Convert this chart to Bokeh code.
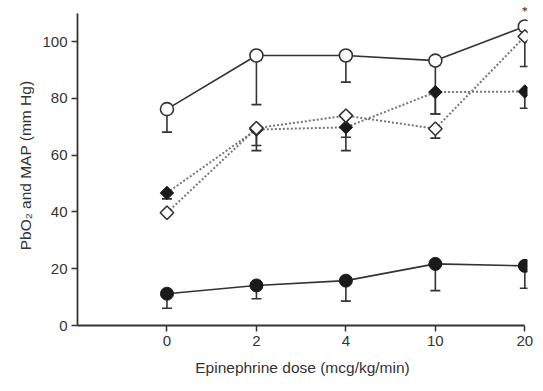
import math
from bokeh.plotting import figure
from bokeh.models import (ColumnDataSource, Range1d, FixedTicker, Whisker, TeeHead, LabelSet)
from bokeh.embed import file_html
from bokeh.resources import INLINE

# ---- data ----
doses = ["0", "2", "4", "10", "20"]
y_ticks = [0, 20, 40, 60, 80, 100]

open_circle = [76.2, 95.1, 95.1, 93.3, 105.3]
open_circle_low = [68.1, 77.8, 85.7, 74.5, None]

filled_circle = [11.2, 14.1, 15.8, 21.7, 21.0]
filled_circle_low = [6.1, 9.4, 8.6, 12.3, 13.1]

filled_diamond = [46.7, 69.0, 69.8, 82.2, 82.4]
filled_diamond_low = [44.6, 61.6, 61.6, 74.5, 76.5]

open_diamond = [39.7, 69.5, 73.9, 69.3, 101.8]
open_diamond_low = [None, 63.4, 66.3, 66.0, 91.2]

significant = ["20"]
star_text = ["*"]

FONT = "Liberation Sans"
INK = "#333333"

xpos = list(range(len(doses)))

p = figure(width=535, height=383, output_backend="svg", toolbar_location=None,
           x_range=Range1d(-1, 4.03), y_range=Range1d(0, 112.7),
           min_border_left=77, min_border_right=8, min_border_top=5, min_border_bottom=58)
p.outline_line_color = None
p.xgrid.visible = False
p.ygrid.visible = False
p.background_fill_color = "white"

def err_source(vals, lows):
    xs, up, lo = [], [], []
    for x, v, l in zip(xpos, vals, lows):
        if l is not None:
            xs.append(x); up.append(v); lo.append(l)
    return ColumnDataSource(dict(x=xs, upper=up, lower=lo))

# lines
p.line(xpos, open_circle, line_color=INK, line_width=1.6)
p.line(xpos, filled_circle, line_color=INK, line_width=1.6)
p.line(xpos, filled_diamond, line_color="#777777", line_width=2, line_dash="2 2")
p.line(xpos, open_diamond, line_color="#777777", line_width=2, line_dash="2 2")

# error bars
for vals, lows in [(open_circle, open_circle_low), (filled_circle, filled_circle_low),
                   (filled_diamond, filled_diamond_low), (open_diamond, open_diamond_low)]:
    src = err_source(vals, lows)
    w = Whisker(source=src, base="x", upper="upper", lower="lower",
                line_color=INK, line_width=1.6, upper_head=None,
                lower_head=TeeHead(size=10, line_color=INK, line_width=1.6))
    p.add_layout(w)

# markers
p.scatter(xpos, filled_circle, marker="circle", size=13, fill_color="#1a1a1a", line_color="#1a1a1a")
p.scatter(xpos, open_circle, marker="circle", size=13, fill_color="white", line_color=INK, line_width=1.6)
p.scatter(xpos, filled_diamond, marker="square", size=9.5, angle=math.pi / 4,
          fill_color="#1a1a1a", line_color="#1a1a1a")
p.scatter(xpos, open_diamond, marker="square", size=9.5, angle=math.pi / 4,
          fill_color="white", line_color=INK, line_width=1.6)

# significance star
star_src = ColumnDataSource(dict(
    x=[doses.index(d) for d in significant],
    y=[open_circle[doses.index(d)] for d in significant],
    t=star_text))
p.add_layout(LabelSet(source=star_src, x="x", y="y", text="t", y_offset=9,
                      text_align="center", text_baseline="bottom",
                      text_font=FONT, text_font_size="12px", text_color="#222222"))

# axes
p.xaxis.ticker = FixedTicker(ticks=xpos)
p.xaxis.major_label_overrides = {i: d for i, d in zip(xpos, doses)}
p.xaxis.bounds = (-1, 4)
p.yaxis.ticker = FixedTicker(ticks=y_ticks)
p.yaxis.bounds = (0, 110)

p.xaxis.axis_label = "Epinephrine dose (mcg/kg/min)"
p.yaxis.axis_label = "PbO\u2082 and MAP (mm Hg)"

for ax in (p.xaxis[0], p.yaxis[0]):
    ax.axis_line_color = INK
    ax.axis_line_width = 1.8
    ax.major_tick_line_color = INK
    ax.major_tick_line_width = 1.5
    ax.major_tick_out = 6
    ax.major_tick_in = 0
    ax.minor_tick_out = 0
    ax.minor_tick_in = 0
    ax.major_label_text_font = FONT
    ax.major_label_text_font_size = "15px"
    ax.major_label_text_color = INK
    ax.axis_label_text_font = FONT
    ax.axis_label_text_font_size = "15.5px"
    ax.axis_label_text_font_style = "normal"
    ax.axis_label_text_color = INK

p.xaxis.major_label_standoff = 4
p.xaxis.axis_label_standoff = 10
p.yaxis.major_label_standoff = 4
p.yaxis.axis_label_standoff = 5

open("out.html", "w").write(file_html(p, INLINE))
